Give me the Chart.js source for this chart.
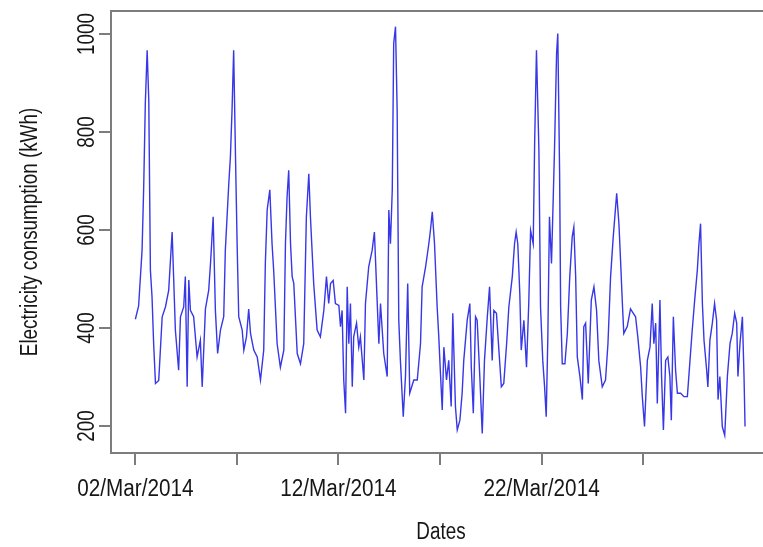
<!DOCTYPE html>
<html>
<head>
<meta charset="utf-8">
<title>Electricity consumption</title>
<script src="https://cdn.jsdelivr.net/npm/chart.js@4.4.1/dist/chart.umd.min.js"></script>
<style>
  html, body { margin: 0; padding: 0; background: #fff; overflow: hidden; }
</style>
</head>
<body>
<canvas id="elecChart" width="780" height="547"></canvas>
<script>
// -------------------------
// Data (days since 02/Mar/2014 00:00, kWh)
// -------------------------
const days = [
  0, 0.16, 0.33, 0.41, 0.49, 0.58, 0.66, 0.74, 0.82, 0.90, 0.99, 1.15, 1.32, 1.48, 1.64, 1.81, 1.97, 2.13, 2.22, 2.38,
  2.46, 2.55, 2.63, 2.71, 2.87, 3.04, 3.20, 3.29, 3.45, 3.61, 3.70, 3.83, 3.94, 4.05, 4.19, 4.35, 4.43, 4.60, 4.68, 4.76,
  4.84, 4.93, 5.01, 5.09, 5.26, 5.34, 5.47, 5.58, 5.67, 5.83, 6.00, 6.16, 6.32, 6.40, 6.49, 6.62, 6.73, 6.81, 6.98, 7.14,
  7.31, 7.39, 7.47, 7.55, 7.64, 7.72, 7.80, 7.97, 8.13, 8.29, 8.42, 8.54, 8.62, 8.78, 8.95, 9.11, 9.28, 9.41, 9.52, 9.61,
  9.74, 9.85, 10.02, 10.10, 10.18, 10.26, 10.35, 10.43, 10.51, 10.59, 10.68, 10.75, 10.89, 11.00, 11.08, 11.25, 11.33, 11.49, 11.66, 11.77,
  11.91, 11.99, 12.07, 12.23, 12.40, 12.48, 12.56, 12.65, 12.72, 12.81, 12.89, 12.97, 13.05, 13.19, 13.30, 13.41, 13.51, 13.71, 13.88, 14.04,
  14.12, 14.29, 14.45, 14.53, 14.62, 14.73, 14.86, 14.94, 15.03, 15.11, 15.19, 15.32, 15.43, 15.55, 15.63, 15.76, 15.85, 15.98, 16.09, 16.17,
  16.34, 16.47, 16.54, 16.64, 16.75, 16.83, 16.96, 17.08, 17.19, 17.33, 17.44, 17.57, 17.65, 17.78, 17.90, 18.02, 18.14, 18.28, 18.39, 18.56,
  18.67, 18.75, 18.83, 18.93, 19.00, 19.13, 19.26, 19.37, 19.46, 19.59, 19.66, 19.75, 19.87, 19.95, 20.06, 20.15, 20.23, 20.31, 20.39, 20.49,
  20.56, 20.64, 20.74, 20.80, 20.89, 20.94, 21.02, 21.15, 21.27, 21.39, 21.51, 21.59, 21.68, 21.76, 21.89, 22.01, 22.08, 22.17, 22.30, 22.45,
  22.58, 22.71, 22.82, 22.99, 23.15, 23.27, 23.40, 23.53, 23.70, 23.81, 23.89, 23.98, 24.05, 24.22, 24.38, 24.52, 24.63, 24.74, 24.88, 24.96,
  25.07, 25.21, 25.34, 25.45, 25.53, 25.62, 25.70, 25.83, 25.91, 26.00, 26.11, 26.22, 26.32, 26.39, 26.49, 26.60, 26.69, 26.85, 27.01, 27.18,
  27.31, 27.42, 27.54, 27.67, 27.75, 27.83, 27.92, 28.00, 28.13, 28.19, 28.29, 28.41, 28.52, 28.62, 28.69, 28.78, 28.90, 29.02, 29.15, 29.28,
  29.39, 29.51, 29.61, 29.67, 29.77, 29.89, 29.97, 30.02
];
const kwh = [
  418, 445, 559, 688, 859, 967, 865, 518, 464, 368, 287, 293, 423, 443, 477, 596, 396, 314, 423, 443,
  505, 280, 498, 436, 423, 341, 375, 280, 439, 477, 532, 627, 436, 348, 396, 423, 559, 695, 750, 845,
  967, 750, 572, 423, 396, 355, 382, 439, 389, 355, 341, 294, 355, 532, 641, 682, 572, 518, 368, 320,
  355, 572, 668, 722, 572, 505, 491, 348, 327, 368, 627, 715, 627, 491, 396, 382, 436, 505, 450, 491,
  497, 450, 446, 403, 436, 294, 226, 484, 368, 450, 280, 382, 410, 361, 382, 294, 450, 525, 559, 596,
  450, 368, 450, 348, 301, 641, 572, 682, 981, 1015, 845, 416, 334, 219, 301, 491, 267, 294, 294, 368,
  484, 525, 572, 600, 637, 572, 443, 382, 301, 233, 361, 294, 334, 240, 430, 240, 192, 212, 267, 334,
  416, 450, 321, 226, 423, 416, 301, 185, 334, 423, 484, 334, 436, 430, 355, 280, 287, 368, 443, 505,
  572, 596, 572, 470, 355, 416, 320, 450, 599, 572, 777, 967, 763, 443, 334, 280, 219, 382, 627, 532,
  641, 768, 960, 1001, 715, 443, 327, 327, 389, 505, 586, 606, 505, 341, 301, 254, 403, 410, 287, 457,
  484, 436, 334, 280, 294, 368, 505, 586, 675, 613, 539, 450, 389, 403, 439, 430, 423, 382, 320, 261,
  199, 334, 361, 450, 368, 410, 246, 457, 301, 192, 334, 341, 301, 212, 423, 314, 267, 267, 260, 260,
  334, 396, 457, 518, 572, 613, 450, 375, 314, 280, 375, 410, 450, 416, 254, 301, 199, 181, 301, 368,
  389, 430, 410, 301, 368, 423, 301, 199
];
const xTickDays = [0, 5, 10, 15, 20, 25];
const xTickLabels = ['02/Mar/2014', '', '12/Mar/2014', '', '22/Mar/2014', ''];
const yTicks = [200, 400, 600, 800, 1000];

// -------------------------
// Styling
// -------------------------
const FONT = '"Liberation Sans", Arial, sans-serif';
const AXIS_GREY = '#7d7d7d';
const TEXT_COLOR = '#161616';
const LINE_BLUE = 'rgb(55, 55, 232)';

const points = days.map((d, i) => ({ x: d, y: kwh[i] }));

// narrow text helper (reference text is condensed)
function narrowText(ctx, text, x, y, rot, squeeze) {
  ctx.save();
  ctx.translate(x, y);
  if (rot) ctx.rotate(rot);
  ctx.scale(squeeze, 1);
  ctx.fillText(text, 0, 0);
  ctx.restore();
}

// R-style box, labels and axis titles
const rAxisPlugin = {
  id: 'rAxis',
  afterDraw(chart) {
    const ctx = chart.ctx;
    const area = chart.chartArea;
    const xScale = chart.scales.x;
    const yScale = chart.scales.y;
    ctx.save();

    ctx.strokeStyle = AXIS_GREY;
    ctx.lineWidth = 2;
    ctx.strokeRect(area.left, area.top, area.right - area.left, area.bottom - area.top);

    ctx.fillStyle = TEXT_COLOR;
    ctx.font = '23px ' + FONT;
    ctx.textAlign = 'center';
    ctx.textBaseline = 'middle';

    yTicks.forEach(v => {
      narrowText(ctx, String(v), 88, yScale.getPixelForValue(v), -Math.PI / 2, 0.82);
    });
    xTickDays.forEach((d, i) => {
      if (xTickLabels[i]) narrowText(ctx, xTickLabels[i], xScale.getPixelForValue(d), 490, 0, 0.9);
    });

    narrowText(ctx, 'Electricity consumption (kWh)', 31, (area.top + area.bottom) / 2, -Math.PI / 2, 0.82);
    narrowText(ctx, 'Dates', 441, 533, 0, 0.82);

    ctx.restore();
  }
};

const ctx = document.getElementById('elecChart').getContext('2d');
const elecChart = new Chart(ctx, {
  type: 'line',
  data: {
    datasets: [{
      label: 'Electricity consumption',
      data: points,
      borderColor: LINE_BLUE,
      borderWidth: 1.4,
      pointRadius: 0,
      tension: 0,
      fill: false
    }]
  },
  options: {
    responsive: false,
    animation: false,
    devicePixelRatio: 1,
    layout: { padding: { top: 11, right: 11, left: 0, bottom: 0 } },
    plugins: { legend: { display: false }, tooltip: { enabled: false } },
    scales: {
      x: {
        type: 'linear',
        min: -1.2,
        max: 31.2,
        afterBuildTicks: scale => { scale.ticks = xTickDays.map(v => ({ value: v })); },
        afterFit: scale => { scale.height = 94; },
        grid: { display: true, drawOnChartArea: false, drawTicks: true, tickLength: 12, color: AXIS_GREY, lineWidth: 2 },
        border: { display: false },
        ticks: { display: false }
      },
      y: {
        min: 145,
        max: 1047,
        afterBuildTicks: scale => { scale.ticks = yTicks.map(v => ({ value: v })); },
        afterFit: scale => { scale.width = 111; },
        grid: { display: true, drawOnChartArea: false, drawTicks: true, tickLength: 12, color: AXIS_GREY, lineWidth: 2 },
        border: { display: false },
        ticks: { display: false }
      }
    }
  },
  plugins: [rAxisPlugin]
});
</script>
</body>
</html>
